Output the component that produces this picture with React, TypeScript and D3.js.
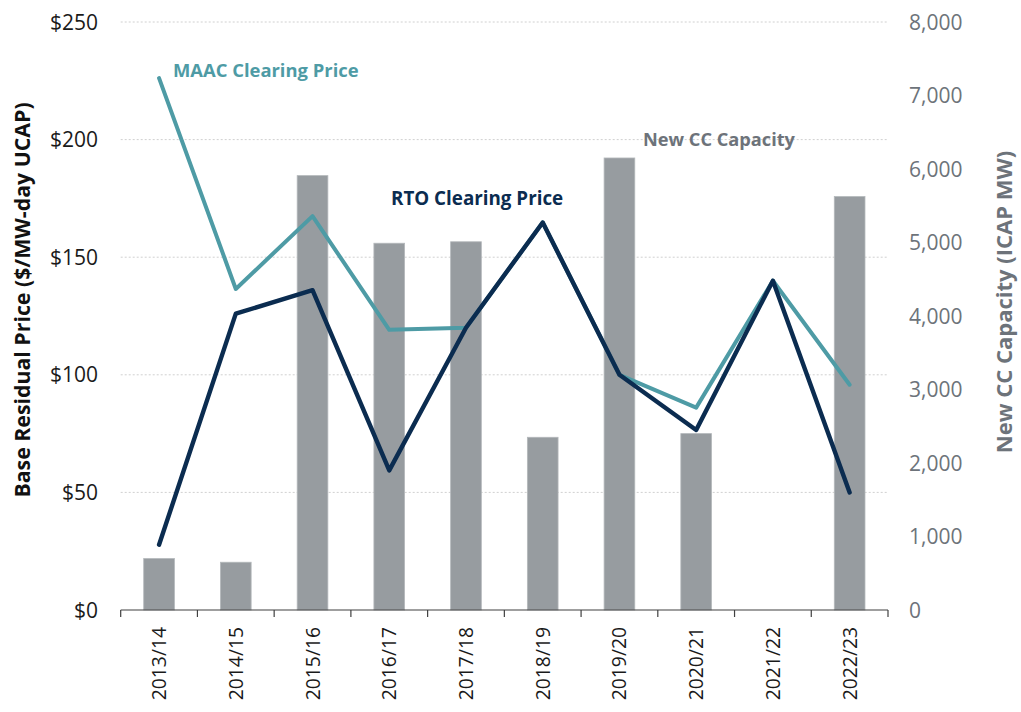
import React from "react";
import * as d3 from "d3";

const categories = ["2013/14","2014/15","2015/16","2016/17","2017/18","2018/19","2019/20","2020/21","2021/22","2022/23"];
const newCCCapacity = [700, 650, 5910, 4990, 5010, 2350, 6150, 2400, 0, 5625];
const rtoPrice = [27.73, 125.99, 136.0, 59.37, 120.0, 164.77, 100.0, 76.53, 140.0, 50.0];
const maacPrice = [226.15, 136.5, 167.46, 119.13, 120.0, 164.77, 100.0, 86.04, 140.0, 95.79];
const leftTicks = [0, 50, 100, 150, 200, 250];
const rightTicks = [0, 1000, 2000, 3000, 4000, 5000, 6000, 7000, 8000];

const W = 1021, H = 712;
const FONT = "'Open Sans', sans-serif";
const TEAL = "#4E9BA5";
const NAVY = "#0B2C50";
const BAR = "#979CA0";
const RGRAY = "#6D737A";

export default function App() {
  const x = d3.scaleBand<string>().domain(categories).range([120.7, 888]).paddingInner(0.6).paddingOuter(0.3);
  const yL = d3.scaleLinear().domain([0, 250]).range([610, 22]);
  const yR = d3.scaleLinear().domain([0, 8000]).range([610, 22]);
  const cx = (c: string) => (x(c) as number) + x.bandwidth() / 2;
  const line = d3.line<number>().x((_, i) => cx(categories[i])).y((d) => yL(d));
  const [x0, x1] = x.range();
  const boundaries = d3.range(categories.length + 1).map((i) => x0 + i * x.step());
  const fmtR = d3.format(",");

  return (
    <svg width={W} height={H} style={{ position: "absolute", left: 0, top: 0, background: "#fff" }} fontFamily={FONT}>
      {/* gridlines */}
      {leftTicks.filter((t) => t > 0).map((t) => (
        <line key={"g" + t} x1={x0} x2={x1} y1={yL(t)} y2={yL(t)} stroke="#d0d0d0" strokeWidth={1} strokeDasharray="2,2" />
      ))}
      {/* bars */}
      {categories.map((c, i) => (
        newCCCapacity[i] > 0 ? (
          <rect key={"b" + c} x={x(c)} y={yR(newCCCapacity[i])} width={x.bandwidth()} height={yR(0) - yR(newCCCapacity[i])} fill={BAR} stroke="#b4b8bb" strokeWidth={0.8} />
        ) : null
      ))}
      {/* lines */}
      <path d={line(maacPrice) || ""} fill="none" stroke={TEAL} strokeWidth={4} strokeLinejoin="round" strokeLinecap="round" />
      <path d={line(rtoPrice) || ""} fill="none" stroke={NAVY} strokeWidth={4.4} strokeLinejoin="round" strokeLinecap="round" />
      {/* x axis */}
      <line x1={x0} x2={x1} y1={610} y2={610} stroke="#404040" strokeWidth={1.2} />
      {boundaries.map((b, i) => (
        <line key={"t" + i} x1={b} x2={b} y1={610} y2={617} stroke="#404040" strokeWidth={1.2} />
      ))}
      {categories.map((c) => (
        <text key={"xl" + c} transform={`translate(${cx(c) + 7},${627}) rotate(-90)`} textAnchor="end" fontSize={19.3} fill="#1a1a1a">{c}</text>
      ))}
      {/* left axis labels */}
      {leftTicks.map((t) => (
        <text key={"l" + t} x={98} y={yL(t) + 7.5} textAnchor="end" fontSize={21} fill="#1a1a1a">{"$" + t}</text>
      ))}
      {/* right axis labels */}
      {rightTicks.map((t) => (
        <text key={"r" + t} x={909} y={yR(t) + 7.5} textAnchor="start" fontSize={21} fill={RGRAY}>{fmtR(t)}</text>
      ))}
      {/* axis titles */}
      <text transform={`translate(30,300) rotate(-90)`} textAnchor="middle" fontSize={21.3} fontWeight="bold" fill="#111">Base Residual Price ($/MW-day UCAP)</text>
      <text transform={`translate(1012,302) rotate(-90)`} textAnchor="middle" fontSize={22} fontWeight="bold" fill={RGRAY}>New CC Capacity (ICAP MW)</text>
      {/* series labels */}
      <text x={173} y={77} fontSize={18.4} fontWeight="bold" fill={TEAL}>MAAC Clearing Price</text>
      <text x={391} y={205} fontSize={18.8} fontWeight="bold" fill={NAVY}>RTO Clearing Price</text>
      <text x={643} y={146} fontSize={18.2} fontWeight="bold" fill={RGRAY}>New CC Capacity</text>
    </svg>
  );
}
